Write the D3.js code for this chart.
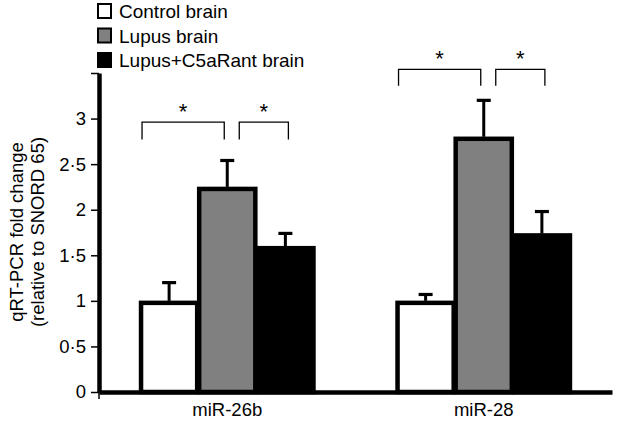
<!DOCTYPE html>
<html>
<head>
<meta charset="utf-8">
<script src="https://cdn.jsdelivr.net/npm/d3@7"></script>
<style>
  body { margin: 0; background: #fff; }
  svg { display: block; font-family: "Liberation Sans", Arial, Helvetica, sans-serif; }
</style>
</head>
<body>
<svg id="chart" width="617" height="422"></svg>
<script>
// ---- data ----
const categories = ["miR-26b", "miR-28"];
const seriesNames = ["Control brain", "Lupus brain", "Lupus+C5aRant brain"];
const seriesColors = ["#ffffff", "#808080", "#000000"];
const controlValues = [1.0, 1.0];
const lupusValues = [2.25, 2.8];
const c5aValues = [1.6, 1.74];
const controlErrors = [0.2, 0.07];
const lupusErrors = [0.29, 0.4];
const c5aErrors = [0.14, 0.24];
const yTickValues = [0, 0.5, 1, 1.5, 2, 2.5, 3, 3.5];
const yTickLabels = ["0", "0·5", "1", "1·5", "2", "2·5", "3", ""];
const bracketLevels = [2.96, 3.54];
const bracketDrops = [2.77, 3.36];

const seriesValues = [controlValues, lupusValues, c5aValues];
const seriesErrors = [controlErrors, lupusErrors, c5aErrors];

const svg = d3.select("#chart");
const axisX = 99, right = 612, baseY = 392, topY = 73;
const FONT = "Liberation Sans, Arial, sans-serif";

const x0 = d3.scaleBand().domain(categories).range([axisX, right])
  .paddingInner(0.32).paddingOuter(0.16);
const x1 = d3.scaleBand().domain(d3.range(seriesNames.length)).range([0, x0.bandwidth()]);
const y = d3.scaleLinear().domain([0, 3.5]).range([baseY, topY]);

const rows = [];
categories.forEach((c, ci) => {
  seriesNames.forEach((s, si) => {
    rows.push({c, ci, si, v: seriesValues[si][ci], e: seriesErrors[si][ci]});
  });
});

// error bars
const eg = svg.append("g");
rows.forEach(d => {
  const cx = x0(d.c) + x1(d.si) + x1.bandwidth() / 2;
  eg.append("line").attr("x1", cx).attr("x2", cx)
    .attr("y1", y(d.v)).attr("y2", y(d.v + d.e))
    .attr("stroke", "#000").attr("stroke-width", 3);
  eg.append("line").attr("x1", cx - 7).attr("x2", cx + 7)
    .attr("y1", y(d.v + d.e)).attr("y2", y(d.v + d.e))
    .attr("stroke", "#000").attr("stroke-width", 3.2);
});

svg.append("g").selectAll("rect").data(rows).join("rect")
  .attr("x", d => x0(d.c) + x1(d.si) + 1)
  .attr("width", x1.bandwidth() - 2)
  .attr("y", d => y(d.v) + 2)
  .attr("height", d => y(0) - y(d.v) - 2)
  .attr("fill", d => seriesColors[d.si])
  .attr("stroke", "#000").attr("stroke-width", 4.5);

// y axis
const yAxis = d3.axisLeft(y).tickValues(yTickValues)
  .tickFormat((d, i) => yTickLabels[i]).tickSize(8).tickSizeOuter(0).tickPadding(5);
const ya = svg.append("g").attr("transform", `translate(${axisX},0)`).call(yAxis);
ya.select(".domain").attr("stroke-width", 4.5);
ya.selectAll(".tick line").attr("stroke-width", 1.5);
ya.selectAll(".tick text").attr("font-size", 18.5).attr("fill", "#000").attr("font-family", FONT);

// x axis
const xAxis = d3.axisBottom(x0).tickSize(0).tickSizeOuter(0).tickPadding(11);
const xa = svg.append("g").attr("transform", `translate(0,${baseY})`).call(xAxis);
xa.select(".domain").attr("stroke-width", 4.5);
xa.selectAll(".tick text").attr("font-size", 18.5).attr("fill", "#000").attr("font-family", FONT);
svg.append("line").attr("x1", axisX).attr("x2", axisX).attr("y1", baseY).attr("y2", baseY + 7)
  .attr("stroke", "#000").attr("stroke-width", 1.5);

// y axis title
const yt = svg.append("text").attr("transform", "translate(0,232) rotate(-90)")
  .attr("text-anchor", "middle").attr("font-size", 18.5).attr("fill", "#000");
yt.append("tspan").attr("x", 0).attr("y", 23).text("qRT-PCR fold change");
yt.append("tspan").attr("x", 0).attr("y", 44).text("(relative to SNORD 65)");

// significance brackets
const bg = svg.append("g");
categories.forEach((c, ci) => {
  const b0 = x0(c);
  const bw = x1.bandwidth();
  const yTop = y(bracketLevels[ci]), yBot = y(bracketDrops[ci]);
  const spans = [
    [b0 + x1(0) + 2, b0 + x1(1) + bw / 2 - 3],
    [b0 + x1(1) + bw / 2 + 12, b0 + x1(2) + bw / 2 + 3]
  ];
  spans.forEach(([a, b]) => {
    bg.append("path")
      .attr("d", `M${a},${yBot}V${yTop}H${b}V${yBot}`)
      .attr("fill", "none").attr("stroke", "#000").attr("stroke-width", 1.3);
    bg.append("text").attr("x", (a + b) / 2).attr("y", yTop - 3)
      .attr("text-anchor", "middle").attr("font-size", 22).attr("fill", "#000").text("*");
  });
});

// legend
const lg = svg.append("g");
seriesNames.forEach((s, i) => {
  const ly = 4 + i * 24.5;
  lg.append("rect").attr("x", 98).attr("y", ly).attr("width", 13).attr("height", 14)
    .attr("fill", seriesColors[i]).attr("stroke", "#000").attr("stroke-width", 2);
  lg.append("text").attr("x", 119).attr("y", ly + 14).attr("font-size", 19)
    .attr("fill", "#000").text(s);
});
</script>
</body>
</html>
